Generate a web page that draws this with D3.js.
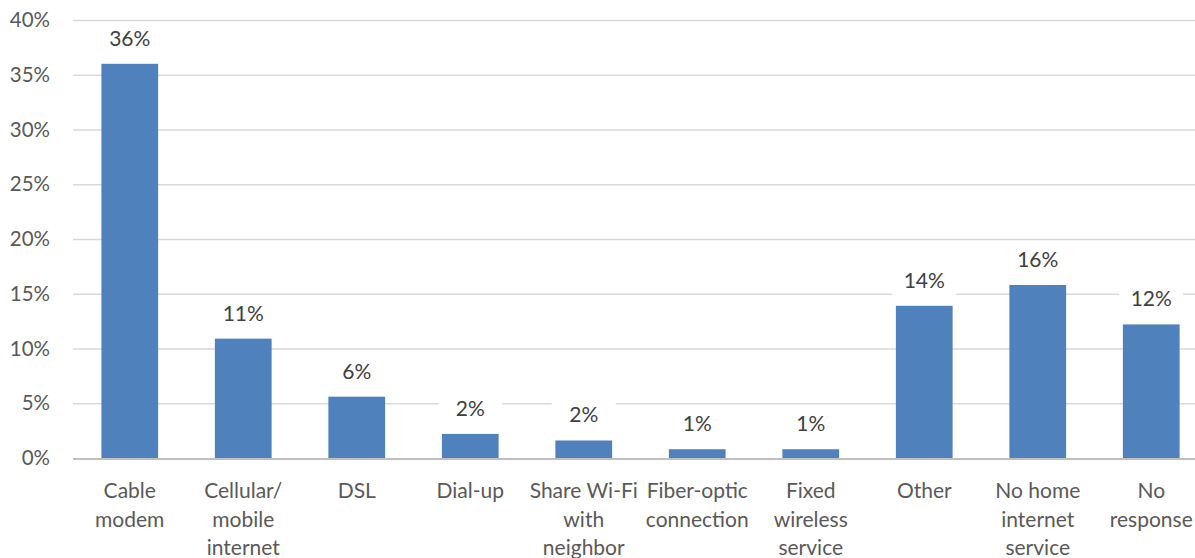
<!DOCTYPE html>
<html>
<head>
<meta charset="utf-8">
<script src="https://cdn.jsdelivr.net/npm/d3@7"></script>
<style>
  body { margin: 0; background: #fff; }
  svg { display: block; font-family: Lato, "Open Sans", sans-serif; }
</style>
</head>
<body>
<svg width="1195" height="558"></svg>
<script>
// categories (line breaks as in the original axis labels)
const categories = ["Cable\nmodem", "Cellular/\nmobile\ninternet", "DSL", "Dial-up", "Share Wi-Fi\nwith\nneighbor",
    "Fiber-optic\nconnection", "Fixed\nwireless\nservice", "Other", "No home\ninternet\nservice", "No\nresponse"]
// share of respondents, percent
const values = [36.0, 10.9, 5.6, 2.2, 1.6, 0.8, 0.8, 13.9, 15.8, 12.2]
const yTicks = [0, 5, 10, 15, 20, 25, 30, 35, 40]

const svg = d3.select("svg")
const margin = { top: 20, left: 73 }
const plotW = 1135, plotH = 438

const x = d3.scaleBand()
    .domain(categories)
    .range([margin.left, margin.left + plotW])
    .paddingInner(0.5)
    .paddingOuter(0.25)

const y = d3.scaleLinear()
    .domain([0, 40])
    .range([margin.top + plotH, margin.top])

// gridlines
svg.append("g")
    .selectAll("line")
    .data(yTicks.filter(d => d > 0))
    .join("line")
    .attr("x1", margin.left)
    .attr("x2", margin.left + plotW)
    .attr("y1", d => y(d) + 0.5)
    .attr("y2", d => y(d) + 0.5)
    .attr("stroke", "#d9d9d9")
    .attr("stroke-width", 1.3)

// y axis labels
svg.append("g")
    .selectAll("text")
    .data(yTicks)
    .join("text")
    .attr("x", 50)
    .attr("y", d => y(d))
    .attr("dy", "0.35em")
    .attr("text-anchor", "end")
    .attr("fill", "#595959")
    .style("font-size", "20.5px")
    .text(d => d + "%")

// bars
svg.append("g")
    .selectAll("rect")
    .data(values)
    .join("rect")
    .attr("x", (d, i) => x(categories[i]))
    .attr("y", d => y(d))
    .attr("width", x.bandwidth())
    .attr("height", d => y(0) - y(d))
    .attr("fill", "#4f81bd")

// baseline
svg.append("line")
    .attr("x1", margin.left)
    .attr("x2", margin.left + plotW)
    .attr("y1", y(0) + 1)
    .attr("y2", y(0) + 1)
    .attr("stroke", "#bfbfbf")
    .attr("stroke-width", 2)

// value labels with white boxes
const labels = svg.append("g")
    .selectAll("g")
    .data(values)
    .join("g")
    .attr("transform", (d, i) => `translate(${x(categories[i]) + x.bandwidth() / 2},${y(d) - 18})`)

labels.append("rect")
    .attr("x", -32)
    .attr("y", -24)
    .attr("width", 64)
    .attr("height", 32)
    .attr("fill", "#fff")

labels.append("text")
    .attr("text-anchor", "middle")
    .attr("fill", "#404040")
    .style("font-size", "21px")
    .text(d => Math.round(d) + "%")

// x axis labels
svg.append("g")
    .selectAll("text")
    .data(categories)
    .join("text")
    .attr("text-anchor", "middle")
    .attr("fill", "#595959")
    .style("font-size", "21px")
    .attr("transform", d => `translate(${x(d) + x.bandwidth() / 2},498)`)
    .selectAll("tspan")
    .data(d => d.split("\n"))
    .join("tspan")
    .attr("x", 0)
    .attr("y", (d, i) => i * 28.5)
    .text(d => d)
</script>
</body>
</html>
